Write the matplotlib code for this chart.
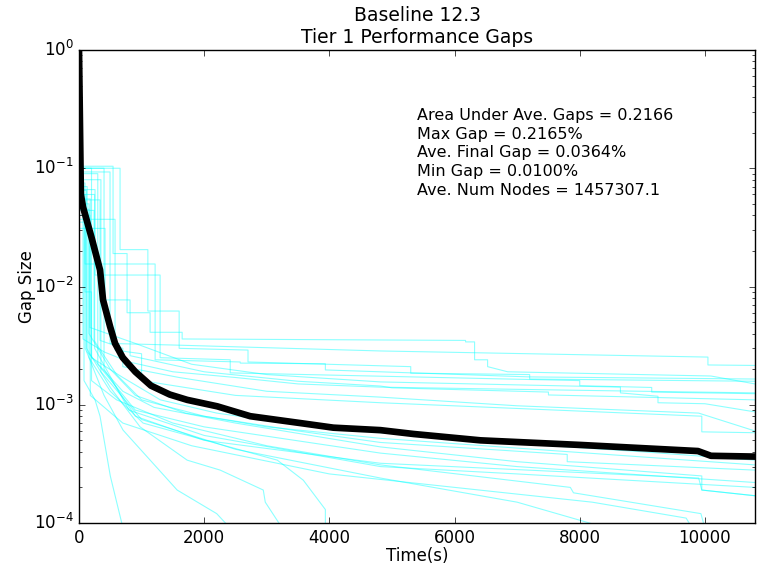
import matplotlib
matplotlib.use("Agg")
import matplotlib.pyplot as plt

plt.style.use("classic")

# Per-run optimality gap traces (time in seconds, relative gap)
run_times = [
    [0, 544, 544, 768, 768, 1136, 1136, 1648, 1648, 6176, 6176, 6320, 6320, 6528, 6528, 6848, 10096, 10800],
    [0, 496, 496, 1500, 4816, 10048, 10048, 10800],
    [0, 96, 96, 1216, 1216, 2576, 2576, 3936, 3936, 7200, 10800],
    [0, 256, 256, 1296, 1296, 2416, 2416, 8000, 8000, 9150, 9150, 10800],
    [0, 64, 64, 400, 800, 1500, 2500, 3500, 4800, 7000, 9000, 10800],
    [0, 176, 176, 900, 1800, 3000, 4816, 8650, 8650, 9250, 9250, 10000, 10800],
    [0, 416, 416, 816, 816, 2000, 3500, 4816, 5000, 7500, 7500, 10800],
    [0, 336, 336, 700, 700, 1600, 3000, 4816, 7000, 9900, 10800],
    [0, 576, 576, 1000, 1000, 2500, 4816, 9950, 9950, 10800],
    [0, 656, 656, 1100, 1100, 1600, 1600, 2700, 2700, 5300, 5300, 7200, 7200, 10800],
    [0, 96, 96, 200, 200, 700, 1300, 2200, 3500, 4816, 7000, 9000, 10800],
    [0, 160, 160, 500, 900, 1700, 3000, 4816, 7000, 10800],
    [0, 240, 240, 600, 1000, 2000, 3500, 4816, 7800, 7800, 10800],
    [0, 130, 130, 700, 1200, 2500, 4816, 7000, 9950, 9950, 10800],
    [0, 300, 300, 900, 2000, 4816, 7000, 10800],
    [0, 250, 250, 800, 2000, 4816, 7000, 10800],
    [0, 350, 350, 1000, 2500, 4816, 7000, 8300],
    [0, 160, 160, 500, 1024, 3168, 3584, 3936, 3936],
    [0, 120, 120, 500, 976, 1728, 2256, 2944, 2976, 3250],
    [0, 100, 100, 400, 704, 1568, 2200, 2420],
    [0, 80, 80, 256, 336, 500, 704],
    [0, 400, 400, 900, 2000, 4816, 9900, 9950, 10800],
    [0, 200, 200, 600, 1500, 3000, 4816, 7850, 7900, 9936, 10000],
    [0, 180, 180, 700, 1800, 4000, 8200, 9700, 9800],
]
run_gaps = [
    [0.104, 0.104, 0.019, 0.019, 0.006, 0.006, 0.0041, 0.0041, 0.0036, 0.0035, 0.0034, 0.0034, 0.0024, 0.0024, 0.0021, 0.0019, 0.00175, 0.0015],
    [0.093, 0.093, 0.0033, 0.0032, 0.00285, 0.00253, 0.00217, 0.00215],
    [0.075, 0.075, 0.0155, 0.0155, 0.0024, 0.0023, 0.00225, 0.00222, 0.00197, 0.00172, 0.00165],
    [0.066, 0.066, 0.0125, 0.0125, 0.0025, 0.0024, 0.00186, 0.0016, 0.00145, 0.0014, 0.00128, 0.00124],
    [0.047, 0.047, 0.0036, 0.0028, 0.0023, 0.0019, 0.0017, 0.0015, 0.00141, 0.00135, 0.0013, 0.00126],
    [0.040, 0.040, 0.0045, 0.0033, 0.0022, 0.0018, 0.00156, 0.00141, 0.00126, 0.00118, 0.00104, 0.00102, 0.00087],
    [0.031, 0.031, 0.0077, 0.0077, 0.0026, 0.0019, 0.00158, 0.00144, 0.00139, 0.00128, 0.00121, 0.0011],
    [0.054, 0.054, 0.0035, 0.0030, 0.0021, 0.0017, 0.0013, 0.00116, 0.00098, 0.00085, 0.0006],
    [0.037, 0.037, 0.0029, 0.0027, 0.0016, 0.0012, 0.00104, 0.0008, 0.00059, 0.00058],
    [0.1, 0.1, 0.0205, 0.0205, 0.0062, 0.0062, 0.0030, 0.0029, 0.0023, 0.0021, 0.00185, 0.0018, 0.00165, 0.00158],
    [0.06, 0.06, 0.009, 0.009, 0.0025, 0.0017, 0.0011, 0.00085, 0.00068, 0.00058, 0.00047, 0.0004, 0.00034],
    [0.05, 0.05, 0.004, 0.002, 0.0012, 0.00085, 0.00065, 0.00052, 0.00043, 0.00031],
    [0.044, 0.044, 0.0035, 0.0018, 0.0011, 0.0008, 0.0006, 0.00048, 0.00038, 0.00033, 0.00028],
    [0.07, 0.07, 0.0028, 0.0013, 0.00095, 0.0007, 0.00044, 0.00033, 0.00025, 0.00019, 0.00017],
    [0.09, 0.09, 0.0022, 0.0009, 0.00065, 0.00039, 0.0003, 0.00022],
    [0.06, 0.06, 0.003, 0.0009, 0.00055, 0.0003, 0.00026, 0.0002],
    [0.08, 0.08, 0.0019, 0.00075, 0.00042, 0.00024, 0.00015, 0.000095],
    [0.045, 0.045, 0.0025, 0.0013, 0.0007, 0.00034, 0.00023, 0.00013, 0.00009],
    [0.065, 0.065, 0.003, 0.0014, 0.00065, 0.00034, 0.00028, 0.00019, 0.00015, 0.00009],
    [0.05, 0.05, 0.003, 0.0012, 0.00061, 0.00019, 0.00012, 0.00009],
    [0.035, 0.035, 0.0016, 0.0011, 0.0008, 0.00025, 0.00009],
    [0.1, 0.1, 0.002, 0.0008, 0.0005, 0.00032, 0.00024, 0.00019, 0.00017],
    [0.1, 0.1, 0.0016, 0.0011, 0.0007, 0.00045, 0.00031, 0.0002, 0.00018, 0.00012, 0.00009],
    [0.055, 0.055, 0.0012, 0.0007, 0.00045, 0.00026, 0.00015, 0.00011, 0.00009],
]

# Average gap across all runs
ave_times = [0, 30, 64, 200, 336, 384, 496, 576, 700, 900, 1150, 1450, 1728,
             2208, 2736, 3536, 4064, 4816, 5344, 6416, 8016, 9888, 10096, 10848]
ave_gaps = [1.0, 0.06, 0.047, 0.026, 0.0138, 0.0077, 0.0046, 0.0033, 0.0025,
            0.0019, 0.00145, 0.00122, 0.0011, 0.00097, 0.0008, 0.0007, 0.00064,
            0.00061, 0.000566, 0.0005, 0.000457, 0.000406, 0.00037, 0.000364]

summary_lines = [
    "Area Under Ave. Gaps = 0.2166",
    "Max Gap = 0.2165%",
    "Ave. Final Gap = 0.0364%",
    "Min Gap = 0.0100%",
    "Ave. Num Nodes = 1457307.1",
]

fig = plt.figure(figsize=(7.57, 5.64), dpi=100, facecolor="white")
ax = fig.add_axes([79 / 757, 41 / 564, 676 / 757, 473 / 564])

for t, g in zip(run_times, run_gaps):
    ax.plot(t, g, color="cyan", alpha=0.45, lw=0.8)
ax.plot(ave_times, ave_gaps, color="black", lw=4.8, solid_joinstyle="round")

ax.set_yscale("log")
ax.set_xlim(0, 10800)
ax.set_ylim(1e-4, 1)
ax.set_xlabel("Time(s)", fontsize=12, labelpad=0)
ax.set_ylabel("Gap Size", fontsize=12, labelpad=-2)
ax.set_title("Baseline 12.3\nTier 1 Performance Gaps", fontsize=13.5, y=1.0)
ax.tick_params(labelsize=12)

ax.text(0.5, 0.877, "\n".join(summary_lines), transform=ax.transAxes,
        fontsize=11.5, va="top", ha="left", linespacing=1.3)

fig.savefig("out.png", dpi=100, facecolor="white")
